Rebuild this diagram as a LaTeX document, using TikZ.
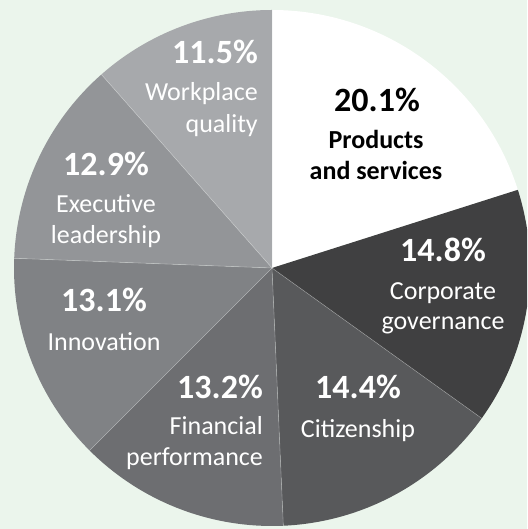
\documentclass[tikz,border=0pt]{standalone}
\usepackage{fontspec}
\setmainfont{Carlito}

\definecolor{bgmint}{HTML}{EBF5EC}
\definecolor{slicewq}{HTML}{A7A9AC}
\definecolor{sliceel}{HTML}{939598}
\definecolor{sliceinno}{HTML}{808285}
\definecolor{slicefp}{HTML}{6D6E71}
\definecolor{slicecit}{HTML}{58595B}
\definecolor{slicecg}{HTML}{404041}

\begin{document}
\begin{tikzpicture}[x=1pt,y=1pt,
  pct/.style={font=\fontsize{34}{34}\selectfont\bfseries, text=white, inner sep=0pt},
  lbl/.style={font=\fontsize{26}{26}\selectfont, text=white, inner sep=0pt}]

% Background
\useasboundingbox (0,0) rectangle (527,529);
\clip (0,0) rectangle (527,529);
\fill[bgmint] (0,0) rectangle (527,529);

% Centre and radius of the pie
\coordinate (O) at (272,261);
\def\rad{258}

% Slices, clockwise from the top
\foreach \a/\b/\col in {17.64/90/white, -35.64/17.64/slicecg, -87.48/-35.64/slicecit,
    -135/-87.48/slicefp, -182.16/-135/sliceinno, -228.6/-182.16/sliceel, -270/-228.6/slicewq}
  \fill[\col] (O) -- ++(\a:\rad) arc[start angle=\a, end angle=\b, radius=\rad] -- cycle;

% Thin light seams between the slices
\foreach \a in {-35.64,-87.48,-135,177.84,131.4,90}
  \draw[white, opacity=0.3, line width=0.6pt] (O) -- ++(\a:\rad);

% Products and services
\node[pct, text=black, anchor=base] (pspct) at (377,417.3) {20.1\%};
\node[lbl, text=black, font=\fontsize{26}{26}\selectfont\bfseries, anchor=base] (ps1) at (376,380.7) {Products};
\node[lbl, text=black, font=\fontsize{26}{26}\selectfont\bfseries, anchor=base] (ps2) at (376,349) {and services};

% Corporate governance
\node[pct, anchor=base] (cgpct) at (443,267.3) {14.8\%};
\node[lbl, anchor=base] (cg1) at (443,229) {Corporate};
\node[lbl, anchor=base] (cg2) at (443,199) {governance};

% Citizenship
\node[pct, anchor=base] (citpct) at (358,130.7) {14.4\%};
\node[lbl, anchor=base] (cit1) at (358,91.7) {Citizenship};

% Financial performance
\node[pct, anchor=base east] (fppct) at (263,130.7) {13.2\%};
\node[lbl, anchor=base east] (fp1) at (263,94) {Financial};
\node[lbl, anchor=base east] (fp2) at (263,63) {performance};

% Innovation
\node[pct, anchor=base] (innopct) at (104,217.3) {13.1\%};
\node[lbl, anchor=base] (inno1) at (104,178) {Innovation};

% Executive leadership
\node[pct, anchor=base] (elpct) at (106,353.3) {12.9\%};
\node[lbl, anchor=base] (el1) at (106,316.7) {Executive};
\node[lbl, anchor=base] (el2) at (106,285.7) {leadership};

% Workplace quality
\node[pct, anchor=base east] (wqpct) at (258,465.7) {11.5\%};
\node[lbl, anchor=base east] (wq1) at (258,428.3) {Workplace};
\node[lbl, anchor=base east] (wq2) at (258,396.3) {quality};

\end{tikzpicture}
\end{document}
